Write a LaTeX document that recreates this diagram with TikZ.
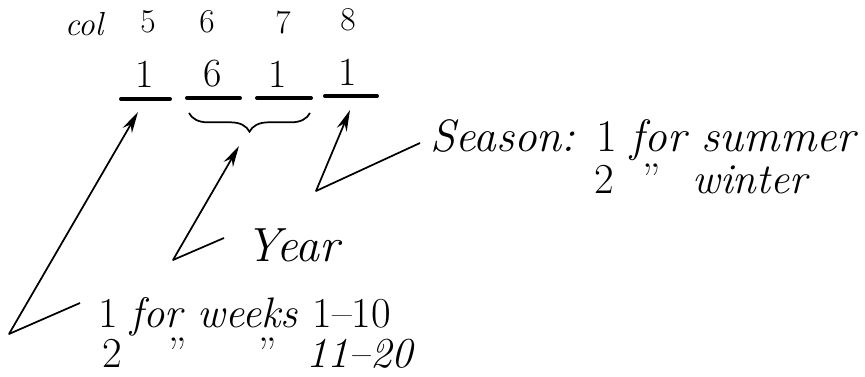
\documentclass[tikz,border=0pt]{standalone}
\usepackage{tikz}
\usetikzlibrary{positioning,arrows.meta,calc,decorations.pathreplacing}

\begin{document}
\begin{tikzpicture}[
  x=0.75pt, y=-0.75pt,
  >=Stealth,
  colnum/.style={inner sep=0pt, font=\fontsize{25}{28}\selectfont},
  digit/.style={inner sep=0pt, font=\fontsize{30}{34}\selectfont},
  note/.style={inner sep=0pt, anchor=base west, font=\fontsize{32}{36}\selectfont\itshape},
  bar/.style={line width=3pt, line cap=round},
  ptr/.style={-{Stealth[length=16pt, width=8pt]}, line width=1.3pt, line join=round},
  brc/.style={line width=1.3pt, decorate, decoration={brace, mirror, amplitude=14pt}},
]
\useasboundingbox (0,0) rectangle (865,377);

% column numbers
\node[colnum, font=\fontsize{25}{28}\selectfont\itshape] (col) at (84,24) {col};
\node[colnum] (c5) at (148,22) {5};
\node[colnum] (c6) at (207,22) {6};
\node[colnum] (c7) at (283,22) {7};
\node[colnum] (c8) at (348,20) {8};

% coded digits
\node[digit] (d5) at (145,74) {1};
\node[digit] (d6) at (213,74) {6};
\node[digit] (d7) at (278,74) {1};
\node[digit] (d8) at (348,72) {1};

% underlines
\draw[bar] (121,99) -- (170,99);
\draw[bar] (187,98) -- (240,98);
\draw[bar] (257,98) -- (311,98);
\draw[bar] (325,96) -- (377,96);

% brace over columns 6-7
\draw[brc] (189,113) -- (310,113);

% labels
\node[note, font=\fontsize{34}{38}\selectfont\itshape] (season) at (430,152) {Season: \upshape 1 \itshape for summer};
\node[note, font=\fontsize{32}{36}\selectfont] (win2) at (594,194) {2};
\node[note, font=\fontsize{32}{36}\selectfont] (dit0) at (642,194) {''};
\node[note] (winter) at (692,194) {winter};
\node[note, font=\fontsize{36}{40}\selectfont\itshape] (year) at (245,262) {Year};
\node[note] (wk1) at (98,328) {\upshape 1 \itshape for weeks \upshape 1--10};
\node[note, font=\fontsize{32}{36}\selectfont] (wk2) at (102,368) {2};
\node[note, font=\fontsize{32}{36}\selectfont] (dit1) at (168,368) {''};
\node[note, font=\fontsize{32}{36}\selectfont] (dit2) at (258,368) {''};
\node[note] (wk3) at (306,368) {11--20};

% connector corners
\coordinate (s0) at (420,143);
\coordinate (s1) at (316,191);
\coordinate (s2) at (350,110);
\coordinate (y0) at (224,238);
\coordinate (y1) at (173,260);
\coordinate (y2) at (239,146);
\coordinate (w0) at (80,303);
\coordinate (w1) at (9,334);
\coordinate (w2) at (138,112);

% pointers
\draw[ptr] (s0) -- (s1) -- (s2);
\draw[ptr] (y0) -- (y1) -- (y2);
\draw[ptr] (w0) -- (w1) -- (w2);

\end{tikzpicture}
\end{document}
